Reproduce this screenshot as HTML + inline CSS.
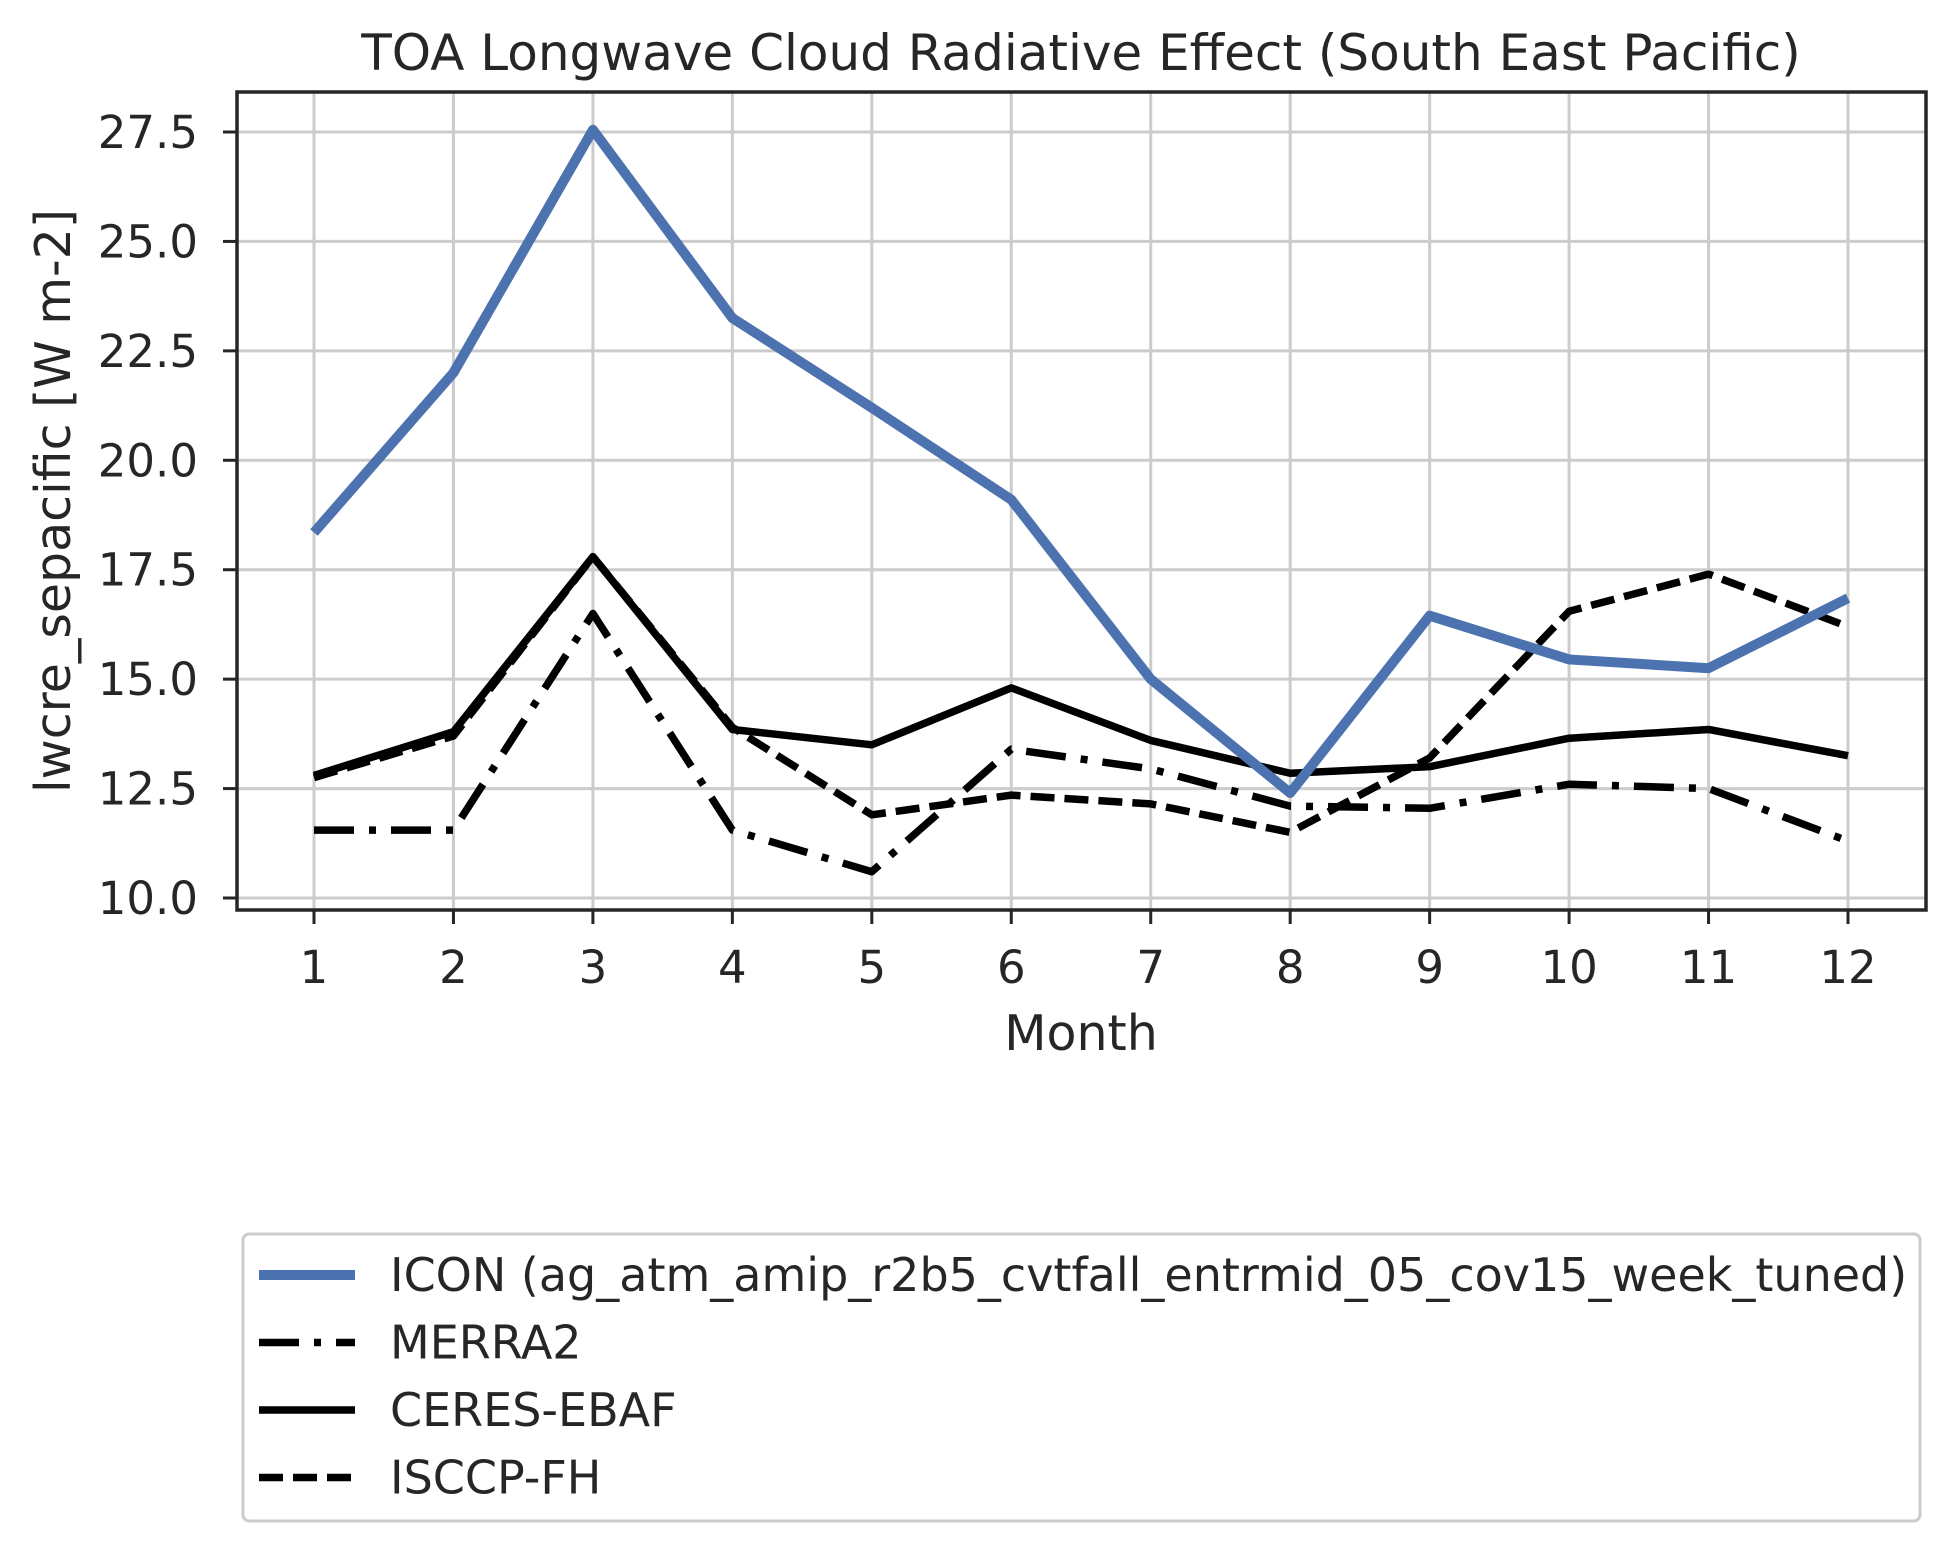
<!DOCTYPE html>
<html><head><meta charset="utf-8">
<style>
html,body{margin:0;padding:0;background:#fff;}
svg text{font-family:"DejaVu Sans","Liberation Sans",sans-serif;fill:#262626;}
</style></head>
<body>
<svg id="chart" width="1955" height="1552" viewBox="0 0 1955 1552" xmlns="http://www.w3.org/2000/svg">
<rect width="1955" height="1552" fill="#fff"/>
<g id="grid"></g>
<g id="series"></g>
<rect x="237" y="92" width="1689" height="818" fill="none" stroke="#262626" stroke-width="3.5"/>
<g id="ticks"></g>
<text x="1081" y="70" font-size="50" text-anchor="middle">TOA Longwave Cloud Radiative Effect (South East Pacific)</text>
<text x="1081" y="1050" font-size="49" text-anchor="middle">Month</text>
<text transform="translate(70,501) rotate(-90)" font-size="49" text-anchor="middle">lwcre_sepacific [W m-2]</text>
<g>
<rect x="243" y="1234" width="1677" height="287" rx="6" fill="#fff" stroke="#cccccc" stroke-width="3"/>
<g id="legend"></g>
</g>
</svg>
<script>
const months = [1,2,3,4,5,6,7,8,9,10,11,12];
const icon = [18.35,22.0,27.55,23.25,21.2,19.1,15.0,12.4,16.45,15.45,15.25,16.85];
const merra2 = [11.55,11.55,16.5,11.55,10.6,13.4,12.95,12.1,12.05,12.6,12.5,11.3];
const ceres = [12.8,13.8,17.8,13.85,13.5,14.8,13.6,12.85,13.0,13.65,13.85,13.25];
const isccp = [12.75,13.7,17.8,13.9,11.9,12.35,12.15,11.5,13.2,16.55,17.4,16.2];
const yTicks = [10.0,12.5,15.0,17.5,20.0,22.5,25.0,27.5];
const seriesNames = ["ICON (ag_atm_amip_r2b5_cvtfall_entrmid_05_cov15_week_tuned)","MERRA2","CERES-EBAF","ISCCP-FH"];

const NS="http://www.w3.org/2000/svg";
const X=m=>314+(m-1)*(1848-314)/11;
const Y=v=>898-(v-10)*(898-132)/17.5;
function mk(tag,attrs,parent){const e=document.createElementNS(NS,tag);for(const k in attrs)e.setAttribute(k,attrs[k]);parent.appendChild(e);return e;}
const grid=document.getElementById('grid'),ticks=document.getElementById('ticks'),ser=document.getElementById('series'),leg=document.getElementById('legend');
months.forEach(m=>{
  const g=mk('line',{x1:X(m),x2:X(m),y1:92,y2:910,stroke:'#cccccc','stroke-width':3},grid);
  
  
  const t=mk('line',{x1:X(m),x2:X(m),y1:910,y2:924,stroke:'#262626','stroke-width':3},ticks);
  
  
  const l=mk('text',{x:X(m),y:983,'font-size':45,'text-anchor':'middle'},ticks);
  l.textContent=m;
  
  
});
yTicks.forEach(v=>{
  const g=mk('line',{x1:237,x2:1926,y1:Y(v),y2:Y(v),stroke:'#cccccc','stroke-width':3},grid);
  
  
  const t=mk('line',{x1:223,x2:237,y1:Y(v),y2:Y(v),stroke:'#262626','stroke-width':3},ticks);
  
  
  const l=mk('text',{x:198,y:Y(v)+16,'font-size':45,'text-anchor':'end'},ticks);
  l.textContent=v.toFixed(1);
  
  
});
const styles=[
  {data:icon,color:'#4c72b0',w:10,dash:'',name:'icon-line'},
  {data:merra2,color:'#000',w:7.5,dash:'40 15 7 15',name:'merra2-line'},
  {data:ceres,color:'#000',w:7.5,dash:'',name:'ceres-ebaf-line'},
  {data:isccp,color:'#000',w:7.5,dash:'24 10',name:'isccp-fh-line'}
];
[1,2,3,0].forEach(i=>{
  const s=styles[i];
  const p=mk('polyline',{points:s.data.map((v,j)=>X(months[j])+','+Y(v)).join(' '),fill:'none',stroke:s.color,'stroke-width':s.w,'stroke-dasharray':s.dash,'stroke-linejoin':'round'},ser);
  
  
});
styles.forEach((s,i)=>{
  const y=1275+i*67.5;
  const h=mk('line',{x1:259,x2:355,y1:y,y2:y,stroke:s.color,'stroke-width':s.w,'stroke-dasharray':s.dash},leg);
  
  
  const t=mk('text',{x:390,y:y+16,'font-size':46},leg);
  t.textContent=seriesNames[i];
  
  
});
</script>
</body></html>
